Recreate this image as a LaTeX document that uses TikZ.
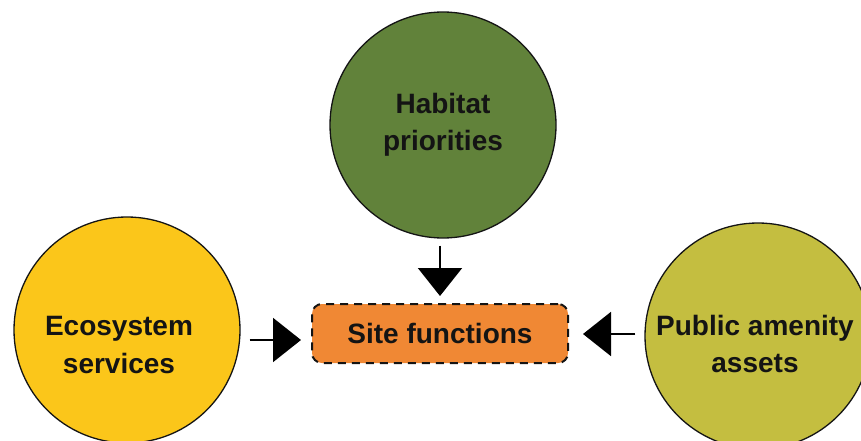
\documentclass[tikz,border=0pt]{standalone}
\usepackage{fontspec}
\setmainfont{Liberation Sans}
\usetikzlibrary{arrows.meta}
\definecolor{habitatgreen}{RGB}{97,130,58}
\definecolor{ecoyellow}{RGB}{251,198,26}
\definecolor{amenityolive}{RGB}{196,190,64}
\definecolor{siteorange}{RGB}{240,136,52}
\definecolor{inkdark}{RGB}{20,20,20}
\tikzset{
  x=1pt, y=-1pt,
  topic/.style={circle, draw=inkdark, line width=1.3pt, minimum size=226pt,
    inner sep=0pt},
  topiclabel/.style={align=center, text=inkdark,
    font=\fontsize{28}{37.5}\selectfont\bfseries},
  sitebox/.style={draw=inkdark, fill=siteorange, line width=2pt,
    dash pattern=on 8pt off 6pt, rounded corners=10pt,
    minimum width=256pt, minimum height=59pt, text=inkdark,
    font=\fontsize{28}{36}\selectfont\bfseries},
  feed/.style={line width=2pt, draw=black,
    -{Triangle[length=28pt, width=44pt]}}
}
\begin{document}
\begin{tikzpicture}
\useasboundingbox (0,0) rectangle (861,441);
\begin{scope}
\clip (0,0) rectangle (861,441);
\node[topic, fill=habitatgreen] (habitat) at (443,125) {};
\node[topic, fill=ecoyellow] (eco) at (127,330) {};
\node[topic, fill=amenityolive] (amenity) at (758,336) {};
\end{scope}
\node[topiclabel] (habitattext) at (443,125) {Habitat\\priorities};
\node[topiclabel] (ecotext) at (119,345) {Ecosystem\\services};
\node[topiclabel] (amenitytext) at (755,344) {Public amenity\\assets};
\node[sitebox] (site) at (440,333.5) {Site functions};
\draw[feed, shorten <=7pt, shorten >=7pt] (habitat.south -| site.north) -- (site.north);
\draw[feed, shorten <=9pt, shorten >=10pt] (eco.east |- 0,340) -- (site.west |- 0,340);
\draw[feed, shorten <=9pt, shorten >=14pt] (amenity.west |- 0,334) -- (site.east |- 0,334);
\end{tikzpicture}
\end{document}
